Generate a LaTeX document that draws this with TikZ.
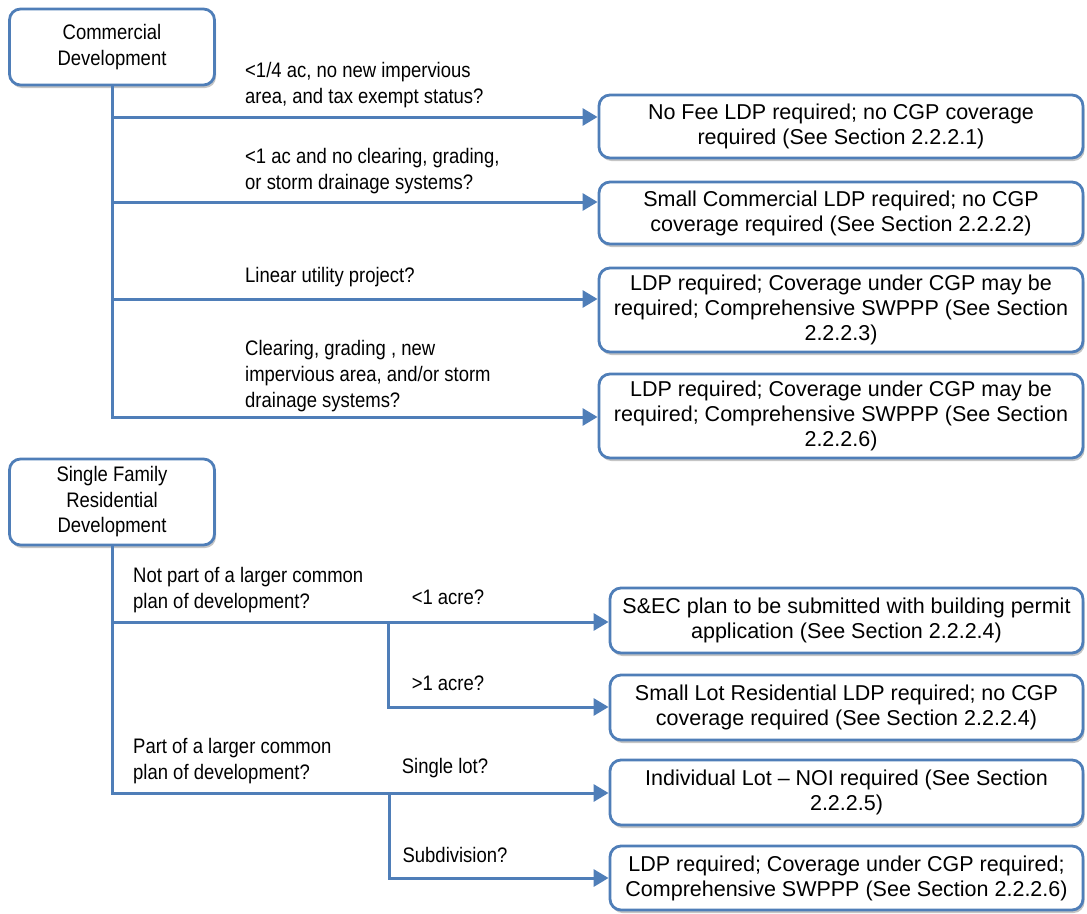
\documentclass[tikz,border=0pt]{standalone}
\usepackage{fontspec}
\setmainfont{Liberation Sans}
\newfontfamily\narrowfont[FakeStretch=0.88]{Liberation Sans}
\usetikzlibrary{arrows.meta,shadows}
\definecolor{lineblue}{RGB}{79,126,184}
\definecolor{shadowgray}{RGB}{110,110,110}
\begin{document}
\begin{tikzpicture}[x=1pt,y=-1pt,
  startbox/.style={draw=lineblue,line width=2.8pt,rounded corners=11pt,fill=white,
    align=center,inner sep=0pt,font=\narrowfont\fontsize{21}{25.5}\selectfont,
    drop shadow={shadow xshift=1.5pt,shadow yshift=-3pt,opacity=0.4,fill=shadowgray}},
  resultbox/.style={draw=lineblue,line width=2.8pt,rounded corners=11pt,fill=white,
    align=center,inner sep=0pt,font=\fontsize{21.5}{25}\selectfont,
    drop shadow={shadow xshift=1.5pt,shadow yshift=-3pt,opacity=0.4,fill=shadowgray}},
  qlabel/.style={align=left,inner sep=0pt,font=\narrowfont\fontsize{21}{26}\selectfont},
  conn/.style={draw=lineblue,line width=3pt},
  arr/.style={conn,-{Triangle[length=15pt,width=17pt]}}
]
\useasboundingbox (0,0) rectangle (1087,913);

% ---------- Commercial ----------
\node[startbox,minimum width=205pt,minimum height=76pt] (C) at (112,47) {Commercial\\Development};

\node[resultbox,minimum width=484pt,minimum height=63pt] (B1) at (841,126.5)
  {No Fee LDP required; no CGP coverage\\required (See Section 2.2.2.1)};
\node[resultbox,minimum width=484pt,minimum height=62pt] (B2) at (841,213)
  {Small Commercial LDP required; no CGP\\coverage required (See Section 2.2.2.2)};
\node[resultbox,minimum width=484pt,minimum height=84pt] (B3) at (841,310)
  {LDP required; Coverage under CGP may be\\required; Comprehensive SWPPP (See Section\\2.2.2.3)};
\node[resultbox,minimum width=484pt,minimum height=84pt] (B4) at (841,416)
  {LDP required; Coverage under CGP may be\\required; Comprehensive SWPPP (See Section\\2.2.2.6)};

\coordinate (j1) at (112,117);
\coordinate (j2) at (112,202);
\coordinate (j3) at (112,299);
\coordinate (j4) at (112,417);

\draw[conn] (C.south) -- (j1);
\draw[arr] (C.south) |- (j4 -| B4.west);
\draw[arr] (j1) -- (j1 -| B1.west);
\draw[arr] (j2) -- (j2 -| B2.west);
\draw[arr] (j3) -- (j3 -| B3.west);

\node[qlabel,anchor=west] (q1) at (245,85) {<1/4 ac, no new impervious\\area, and tax exempt status?};
\node[qlabel,anchor=west] (q2) at (245,171) {<1 ac and no clearing, grading,\\or storm drainage systems?};
\node[qlabel,anchor=west] (q3) at (245,277) {Linear utility project?};
\node[qlabel,anchor=west] (q4) at (245,376) {Clearing, grading , new\\impervious area, and/or storm\\drainage systems?};

% ---------- Single Family ----------
\node[startbox,minimum width=205pt,minimum height=86pt] (S) at (112,502) {Single Family\\Residential\\Development};

\node[resultbox,minimum width=473pt,minimum height=65pt] (B5) at (846.5,620.5)
  {S\&EC plan to be submitted with building permit\\application (See Section 2.2.2.4)};
\node[resultbox,minimum width=473pt,minimum height=65pt] (B6) at (846.5,707.5)
  {Small Lot Residential LDP required; no CGP\\coverage required (See Section 2.2.2.4)};
\node[resultbox,minimum width=473pt,minimum height=65pt] (B7) at (846.5,792.5)
  {Individual Lot – NOI required (See Section\\2.2.2.5)};
\node[resultbox,minimum width=473pt,minimum height=64pt] (B8) at (846.5,878)
  {LDP required; Coverage under CGP required;\\Comprehensive SWPPP (See Section 2.2.2.6)};

\coordinate (k1) at (112,622);
\coordinate (k2) at (112,793);
\coordinate (m1) at (388,622);
\coordinate (m2) at (389,793);

\draw[conn] (S.south) -- (k1);
\draw[arr] (S.south) |- (k2 -| B7.west);
\draw[arr] (k1) -- (k1 -| B5.west);
\draw[arr] (m1) |- (B6.west |- 0,707);
\draw[arr] (m2) |- (B8.west |- 0,878);

\node[qlabel,anchor=west] (q5) at (133,590) {Not part of a larger common\\plan of development?};
\node[qlabel] (q6) at (448,597) {<1 acre?};
\node[qlabel] (q7) at (448,683) {>1 acre?};
\node[qlabel,anchor=west] (q8) at (133,761) {Part of a larger common\\plan of development?};
\node[qlabel] (q9) at (445,768) {Single lot?};
\node[qlabel] (q10) at (455,855) {Subdivision?};
\end{tikzpicture}
\end{document}
